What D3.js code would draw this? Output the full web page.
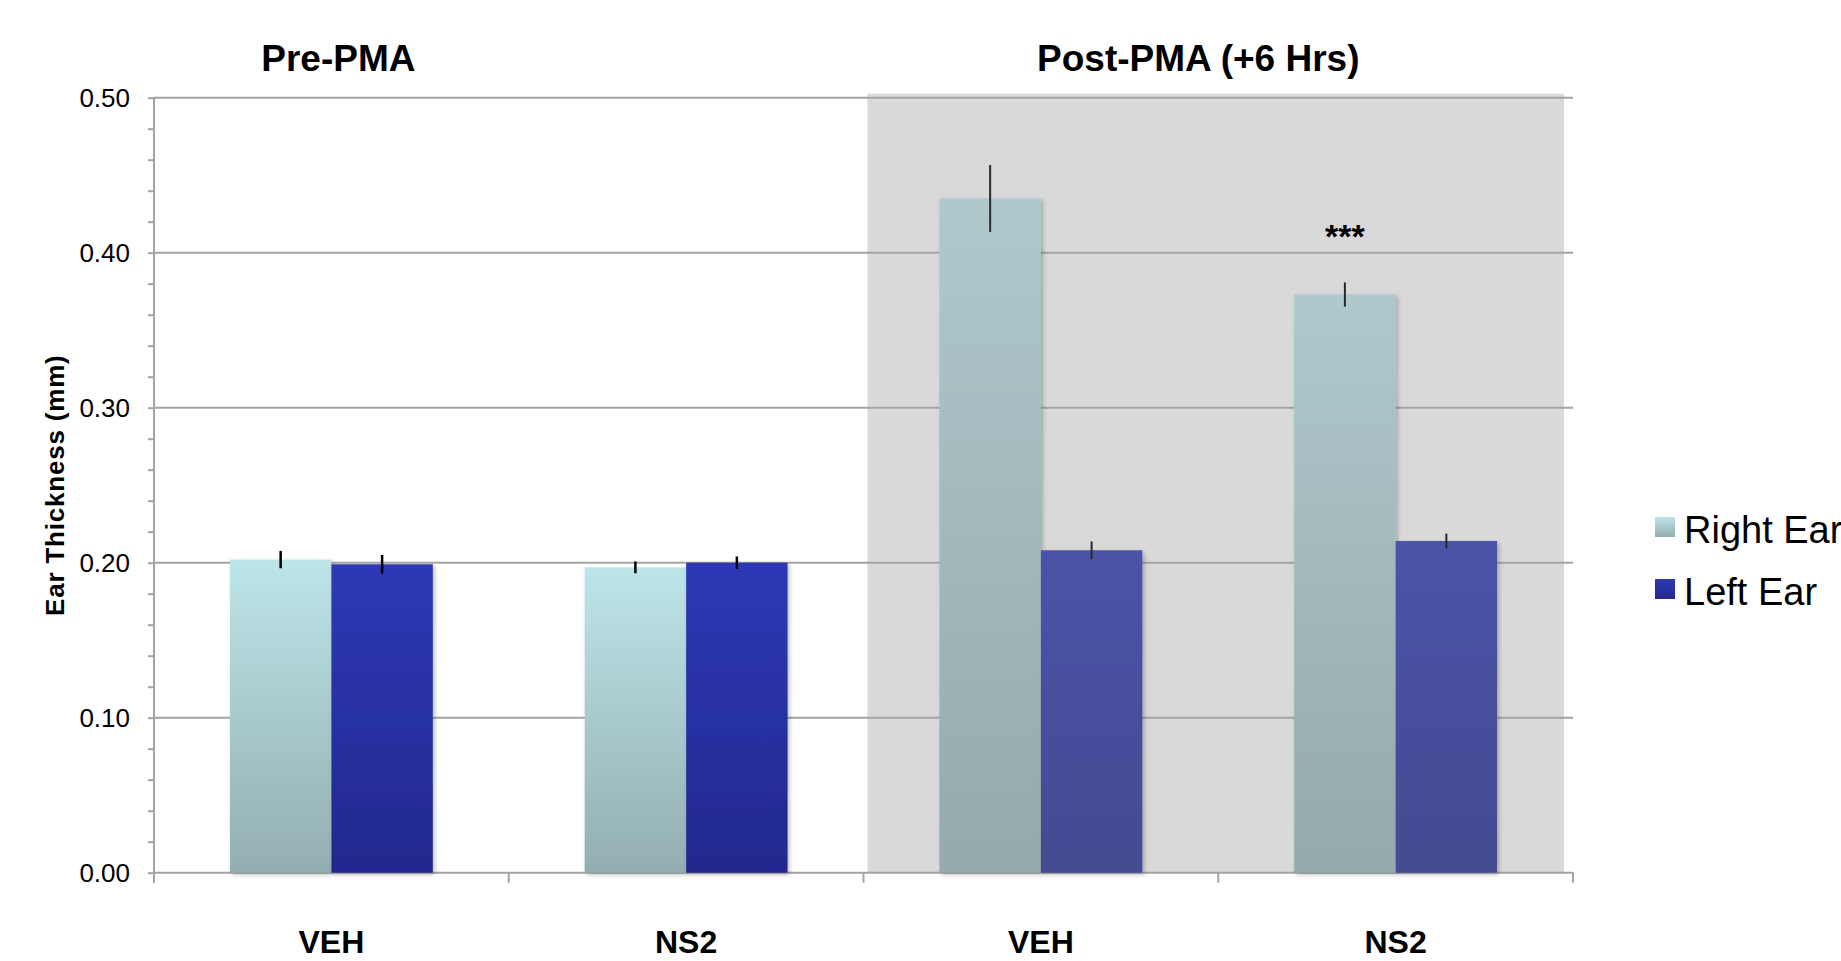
<!DOCTYPE html>
<html>
<head>
<meta charset="utf-8">
<script src="https://cdn.jsdelivr.net/npm/d3@7"></script>
<style>
  body { margin: 0; background: #fff; }
  svg { display: block; font-family: "Liberation Sans", Arial, sans-serif; }
</style>
</head>
<body>
<svg id="chart" width="1841" height="961"></svg>
<script>
// chart data
var categoryIds = ["pre-VEH", "pre-NS2", "post-VEH", "post-NS2"];
var categoryLabels = ["VEH", "NS2", "VEH", "NS2"];
var phases = ["pre", "pre", "post", "post"];
var groupTitles = ["Pre-PMA", "Post-PMA (+6 Hrs)"];
var series = ["Right Ear", "Left Ear"];
var rightEar = [0.202, 0.197, 0.435, 0.373];
var leftEar = [0.199, 0.200, 0.208, 0.214];
var rightErr = [0.0056, 0.0038, 0.0216, 0.0078];
var leftErr = [0.0060, 0.0040, 0.0057, 0.0048];
var yTicks = [0, 0.1, 0.2, 0.3, 0.4, 0.5];
var stars = [{ cat: "post-NS2", ser: "Right Ear", text: "***" }];

var svg = d3.select("#chart");
var margin = { left: 154, right: 268, top: 97.7, bottom: 88.3 };
var W = 1841, H = 961;

var x = d3.scaleBand().domain(categoryIds).range([margin.left, W - margin.right]).padding(0);
var bw = x.bandwidth();
var xs = d3.scaleBand().domain(series).range([bw * 0.214, bw * 0.786]).padding(0);
var y = d3.scaleLinear().domain([0, 0.5]).range([H - margin.bottom, margin.top]);

// gradients + shadow
var defs = svg.append("defs");
function grad(id, top, bottom) {
  var g = defs.append("linearGradient").attr("id", id)
    .attr("x1", 0).attr("y1", 0).attr("x2", 0).attr("y2", 1);
  g.append("stop").attr("offset", "0%").attr("stop-color", top);
  g.append("stop").attr("offset", "100%").attr("stop-color", bottom);
}
grad("pre-Right", "#bde5e9", "#93aeb0");
grad("pre-Left", "#2e39b6", "#22288e");
grad("post-Right", "#afc8cb", "#94aaac");
grad("post-Left", "#4b53a8", "#444b91");
var f = defs.append("filter").attr("id", "shadow")
  .attr("x", "-10%").attr("y", "-10%").attr("width", "130%").attr("height", "130%");
f.append("feDropShadow").attr("dx", 2).attr("dy", 2).attr("stdDeviation", 2)
  .attr("flood-color", "#000").attr("flood-opacity", 0.25);

// grey panel behind post-PMA
svg.append("rect")
  .attr("x", x("post-VEH") + 4)
  .attr("y", y(0.5) - 4)
  .attr("width", x.range()[1] - 9 - (x("post-VEH") + 4))
  .attr("height", y(0) - y(0.5) + 4)
  .attr("fill", "#d9d9d9");

// gridlines
svg.append("g").selectAll("line")
  .data(yTicks.filter(function (d) { return d > 0; }))
  .enter().append("line")
  .attr("x1", margin.left).attr("x2", W - margin.right)
  .attr("y1", function (d) { return y(d); }).attr("y2", function (d) { return y(d); })
  .attr("stroke", "#a3a3a3").attr("stroke-width", 2);

// y axis
var yAxis = d3.axisLeft(y).tickValues(d3.range(0, 0.5001, 0.02)).tickSize(6).tickFormat("");
var ya = svg.append("g").attr("transform", "translate(" + margin.left + ",0)").call(yAxis);
ya.select(".domain").remove();
ya.selectAll(".tick line").attr("stroke", "#a3a3a3").attr("stroke-width", 2);
svg.append("line").attr("x1", margin.left).attr("x2", margin.left)
  .attr("y1", y(0.5)).attr("y2", y(0) + 10)
  .attr("stroke", "#a3a3a3").attr("stroke-width", 2);
svg.append("g").selectAll("text").data(yTicks).enter().append("text")
  .attr("x", margin.left - 24).attr("y", function (d) { return y(d); })
  .attr("dy", "0.36em").attr("text-anchor", "end")
  .style("font-size", "26px").attr("fill", "#000")
  .text(function (d) { return d3.format(".2f")(d); });

// x axis
svg.append("line").attr("x1", margin.left).attr("x2", W - margin.right)
  .attr("y1", y(0)).attr("y2", y(0))
  .attr("stroke", "#a3a3a3").attr("stroke-width", 2);
svg.append("g").selectAll("line").data(categoryIds.concat(["end"])).enter().append("line")
  .attr("x1", function (d) { return d === "end" ? x.range()[1] : x(d); })
  .attr("x2", function (d) { return d === "end" ? x.range()[1] : x(d); })
  .attr("y1", y(0)).attr("y2", y(0) + 10)
  .attr("stroke", "#a3a3a3").attr("stroke-width", 2);
svg.append("g").selectAll("text").data(categoryIds).enter().append("text")
  .attr("x", function (d) { return x(d) + bw / 2; })
  .attr("y", 953)
  .attr("text-anchor", "middle")
  .style("font-size", "32px").style("font-weight", "bold")
  .text(function (d, i) { return categoryLabels[i]; });

// bars
var rows = [];
categoryIds.forEach(function (c, i) {
  rows.push({ cat: c, ser: "Right Ear", key: "Right", phase: phases[i], v: rightEar[i], e: rightErr[i] });
  rows.push({ cat: c, ser: "Left Ear", key: "Left", phase: phases[i], v: leftEar[i], e: leftErr[i] });
});
svg.append("g").selectAll("rect").data(rows).enter().append("rect")
  .attr("x", function (d) { return x(d.cat) + xs(d.ser); })
  .attr("y", function (d) { return y(d.v); })
  .attr("width", xs.bandwidth())
  .attr("height", function (d) { return y(0) - y(d.v); })
  .attr("fill", function (d) { return "url(#" + d.phase + "-" + d.key + ")"; })
  .attr("filter", "url(#shadow)");

// error bars
svg.append("g").selectAll("line").data(rows).enter().append("line")
  .attr("x1", function (d) { return x(d.cat) + xs(d.ser) + xs.bandwidth() / 2; })
  .attr("x2", function (d) { return x(d.cat) + xs(d.ser) + xs.bandwidth() / 2; })
  .attr("y1", function (d) { return y(d.v + d.e); })
  .attr("y2", function (d) { return y(d.v - d.e); })
  .attr("stroke", function (d) { return d.phase === "pre" ? "#000" : "#2a2a2a"; })
  .attr("stroke-width", function (d) { return d.phase === "pre" ? 2.5 : 2; });

// significance stars
svg.append("g").selectAll("text").data(stars).enter().append("text")
  .attr("x", function (d) { return x(d.cat) + xs(d.ser) + xs.bandwidth() / 2; })
  .attr("y", function (d) {
    var r = rows.find(function (o) { return o.cat === d.cat && o.ser === d.ser; });
    return y(r.v + r.e) - 34;
  })
  .attr("text-anchor", "middle")
  .style("font-size", "34px").style("font-weight", "bold")
  .text(function (d) { return d.text; });

// group titles
var titleX = [x("pre-VEH") + bw / 2 + 7, x("post-VEH") + bw - 20];
svg.append("g").selectAll("text").data(groupTitles).enter().append("text")
  .attr("x", function (d, i) { return titleX[i]; })
  .attr("y", 71)
  .attr("text-anchor", "middle")
  .style("font-size", "37px").style("font-weight", "bold")
  .text(function (d) { return d; });

// y title
svg.append("text")
  .attr("transform", "translate(64," + ((y(0) + y(0.5)) / 2) + ") rotate(-90)")
  .attr("text-anchor", "middle")
  .style("font-size", "26px").style("font-weight", "bold")
  .style("letter-spacing", "0.8px")
  .text("Ear Thickness (mm)");

// legend
var lg = svg.append("g").attr("transform", "translate(1655,517)");
var li = lg.selectAll("g").data(series).enter().append("g")
  .attr("transform", function (d, i) { return "translate(0," + i * 62 + ")"; });
li.append("rect").attr("width", 20).attr("height", 20)
  .attr("fill", function (d, i) { return i === 0 ? "url(#pre-Right)" : "url(#pre-Left)"; });
li.append("text").attr("x", 29).attr("y", 26)
  .style("font-size", "38px")
  .text(function (d) { return d; });
</script>
</body>
</html>
